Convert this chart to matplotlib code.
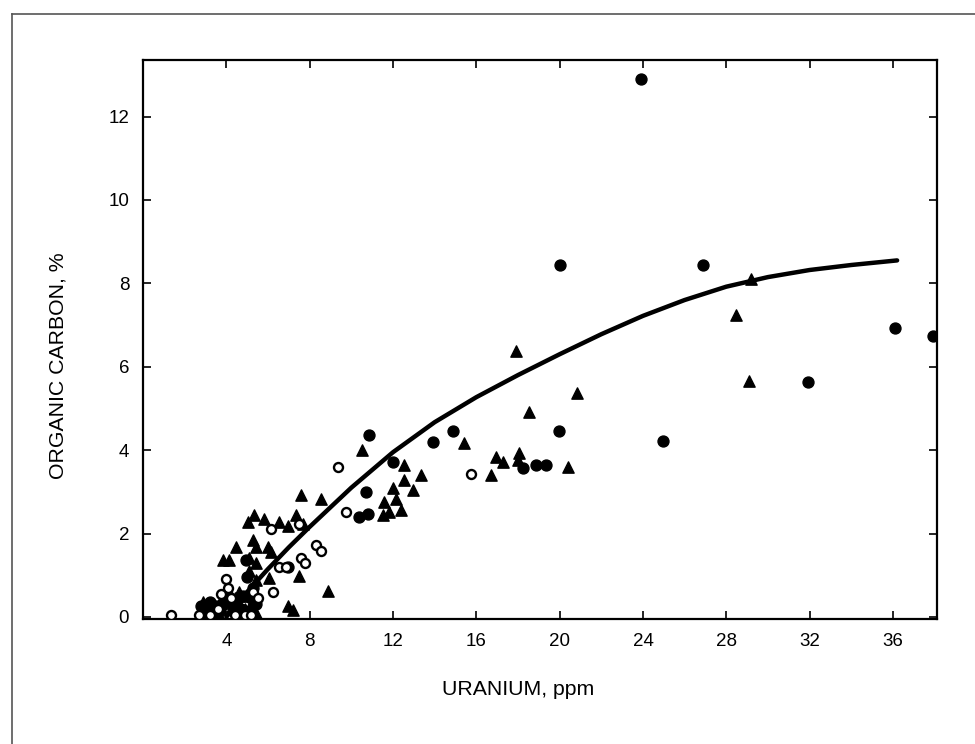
import numpy as np
import matplotlib
matplotlib.use('Agg')
import matplotlib.pyplot as plt
from matplotlib.lines import Line2D

plt.rcParams['font.family'] = ['Liberation Sans', 'DejaVu Sans']

# filled circles
dot_x = [23.9, 20.0, 26.9, 36.1, 37.9, 31.9, 24.95, 19.96, 14.87, 13.9, 10.87,
         11.99, 10.71, 10.39, 10.79, 18.23, 18.87, 19.35,
         2.8, 3.0, 3.5, 3.9, 4.3, 4.7, 5.1, 4.95, 5.0, 5.3, 6.98,
         3.2, 3.7, 4.1, 4.5, 4.8, 5.2, 5.4]
dot_y = [12.9, 8.43, 8.45, 6.93, 6.73, 5.64, 4.22, 4.46, 4.46, 4.2, 4.36,
         3.72, 3.0, 2.4, 2.48, 3.56, 3.64, 3.64,
         0.25, 0.1, 0.25, 0.3, 0.3, 0.2, 0.1, 1.37, 0.95, 0.7, 1.2,
         0.35, 0.15, 0.5, 0.4, 0.5, 0.45, 0.3]

# filled triangles
tri_x = [29.2, 28.47, 29.08, 20.85, 17.9, 18.55, 15.4, 12.55, 13.35, 16.7,
         16.95, 17.27, 18.07, 17.99, 20.39, 12.55, 12.95, 11.99, 11.59, 12.15,
         11.83, 12.39, 11.51, 10.5, 7.59, 8.55,
         5.03, 5.35, 5.83, 6.55, 6.95, 7.35, 7.67, 4.47, 3.86, 5.27, 5.43, 5.1,
         5.99, 6.15, 6.07, 5.43, 7.5, 8.87, 6.95, 7.19, 4.15, 5.43,
         2.9, 3.4, 3.6, 4.0, 4.4, 4.6, 4.8, 5.0, 5.2, 5.4, 4.6, 5.1,
         3.1, 3.8, 4.2, 4.9, 5.3]
tri_y = [8.11, 7.23, 5.65, 5.36, 6.37, 4.92, 4.16, 3.64, 3.4, 3.4,
         3.84, 3.72, 3.92, 3.76, 3.59, 3.28, 3.04, 3.08, 2.76, 2.84,
         2.52, 2.56, 2.44, 4.0, 2.92, 2.84,
         2.28, 2.44, 2.36, 2.28, 2.17, 2.44, 2.24, 1.68, 1.37, 1.84, 1.68, 1.41,
         1.68, 1.56, 0.93, 1.29, 0.97, 0.61, 0.25, 0.17, 1.37, 0.89,
         0.35, 0.05, 0.1, 0.5, 0.45, 0.3, 0.05, 0.5, 0.3, 0.1, 0.6, 1.1,
         0.2, 0.45, 0.2, 0.2, 0.15]

# open circles
ring_x = [1.35, 15.75, 9.35, 9.75, 8.31, 8.55, 7.59, 7.78, 6.15, 7.5, 6.55, 6.87,
          6.23, 3.99, 4.07, 4.23, 2.7, 3.2, 3.6, 3.75, 4.4, 4.9, 5.2, 5.3, 5.5]
ring_y = [0.05, 3.42, 3.59, 2.52, 1.72, 1.59, 1.41, 1.29, 2.12, 2.24, 1.2, 1.2,
          0.59, 0.91, 0.69, 0.45, 0.05, 0.05, 0.2, 0.55, 0.05, 0.05, 0.05, 0.6, 0.45]

# fitted curve
curve_x = [4.0, 5.0, 6.0, 7.0, 8.0, 10.0, 12.0, 14.0, 16.0, 18.0, 20.0, 22.0,
           24.0, 26.0, 28.0, 30.0, 32.0, 34.0, 36.2]
curve_y = [0.0, 0.6, 1.15, 1.67, 2.16, 3.1, 3.95, 4.67, 5.27, 5.8, 6.3, 6.78,
           7.22, 7.6, 7.92, 8.15, 8.32, 8.44, 8.55]

x_ticks = [4, 8, 12, 16, 20, 24, 28, 32, 36]
y_ticks = [0, 2, 4, 6, 8, 10, 12]

fig = plt.figure(figsize=(9.75, 7.44), dpi=100)
ax = fig.add_axes([0.1467, 0.168, 0.814, 0.751])

ax.plot(curve_x, curve_y, color='black', linewidth=3.2, solid_capstyle='round', zorder=2)
ax.scatter(dot_x, dot_y, marker='o', s=62, color='black', zorder=3)
ax.scatter(tri_x, tri_y, marker='^', s=66, color='black', zorder=3)
ax.scatter(ring_x, ring_y, marker='o', s=42, facecolors='white',
           edgecolors='black', linewidths=1.7, zorder=4)

ax.set_xlim(0, 38.1)
ax.set_ylim(-0.05, 13.35)
ax.set_xticks(x_ticks)
ax.set_yticks(y_ticks)
ax.tick_params(direction='in', length=6, width=1.2, top=True, right=True,
               labelsize=13.5)
ax.tick_params(axis='x', pad=10)
ax.tick_params(axis='y', pad=10)
for s in ax.spines.values():
    s.set_linewidth(1.6)

ax.set_xlabel('URANIUM, ppm', fontsize=15.3)
ax.set_ylabel('ORGANIC CARBON, %', fontsize=15.3)
ax.xaxis.set_label_coords(0.472, -0.11)
ax.yaxis.set_label_coords(-0.095, 0.453)

# outer frame of the scanned page
fig.add_artist(Line2D([12 / 975, 12 / 975], [0, 1 - 14 / 744], transform=fig.transFigure,
                      color='#555555', linewidth=1.2))
fig.add_artist(Line2D([12 / 975, 1], [1 - 14 / 744, 1 - 14 / 744], transform=fig.transFigure,
                      color='#555555', linewidth=1.2))

plt.savefig('out.png', dpi=100)
plt.close()
